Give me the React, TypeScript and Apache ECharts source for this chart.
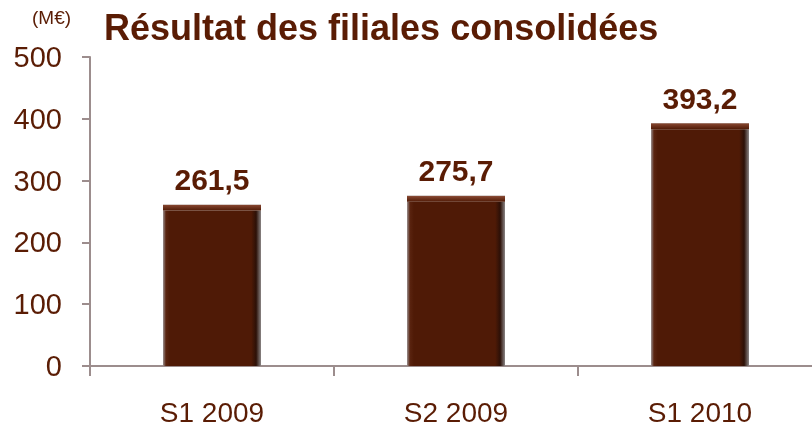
import React, { useEffect, useRef } from "react";
import * as echarts from "echarts";

const categories = ["S1 2009", "S2 2009", "S1 2010"];
const values = [261.5, 275.7, 393.2];
const valueLabels = ["261,5", "275,7", "393,2"];
const yTicks = [0, 100, 200, 300, 400, 500];

const TEXT = "#5a1c04";
const AXIS = "#9c8d8d";
const FONT = "Liberation Sans, Arial, sans-serif";
const CAP = 10; // bevel strip height in data units (styling)

export default function App() {
  const ref = useRef<HTMLDivElement>(null);
  useEffect(() => {
    if (!ref.current) return;
    const chart = echarts.init(ref.current, null, { renderer: "svg" });
    const sideGradient = {
      type: "linear",
      x: 0, y: 0, x2: 1, y2: 0,
      colorStops: [
        { offset: 0, color: "#9a9090" },
        { offset: 0.03, color: "#5a2410" },
        { offset: 0.07, color: "#4f1a06" },
        { offset: 0.9, color: "#4f1a06" },
        { offset: 0.95, color: "#2c1007" },
        { offset: 1, color: "#8a8585" },
      ],
    };
    chart.setOption({
      animation: false,
      textStyle: { fontFamily: FONT },
      title: {
        text: "Résultat des filiales consolidées",
        left: 99,
        top: 4,
        textStyle: {
          color: TEXT,
          fontSize: 36,
          fontWeight: "bold",
          fontFamily: FONT,
        },
      },
      graphic: [
        {
          type: "text",
          left: 32,
          top: 8,
          style: {
            text: "(M€)",
            fill: TEXT,
            fontSize: 19,
            fontFamily: FONT,
          },
        },
      ],
      grid: { left: 90, right: 8, top: 57, bottom: 67, containLabel: false },
      xAxis: {
        type: "category",
        data: categories,
        axisLine: { lineStyle: { color: AXIS, width: 2 } },
        axisTick: { show: true, length: 10, lineStyle: { color: AXIS, width: 2 } },
        axisLabel: { color: TEXT, fontSize: 28, margin: 32 },
      },
      yAxis: {
        type: "value",
        min: yTicks[0],
        max: yTicks[yTicks.length - 1],
        interval: 100,
        splitLine: { show: false },
        axisLine: { show: true, lineStyle: { color: AXIS, width: 2 } },
        axisTick: { show: true, length: 8, lineStyle: { color: AXIS, width: 2 } },
        axisLabel: { color: TEXT, fontSize: 29, margin: 28 },
      },
      series: [
        {
          type: "bar",
          stack: "b",
          data: values.map((v) => v - CAP),
          barWidth: 98,
          itemStyle: { color: sideGradient },
        },
        {
          type: "bar",
          stack: "b",
          data: values.map(() => CAP),
          barWidth: 98,
          itemStyle: {
            color: {
              type: "linear",
              x: 0, y: 0, x2: 0, y2: 1,
              colorStops: [
                { offset: 0, color: "#b8aaa5" },
                { offset: 0.15, color: "#83432d" },
                { offset: 1, color: "#4f1a06" },
              ],
            },
          },
          label: {
            show: true,
            position: "top",
            distance: 10,
            color: TEXT,
            fontSize: 30,
            fontWeight: "bold",
            fontFamily: FONT,
            formatter: (p: any) => valueLabels[p.dataIndex],
          },
        },
      ],
    });
    return () => chart.dispose();
  }, []);
  return (
    <div
      ref={ref}
      style={{ position: "fixed", left: 0, top: 0, width: 830, height: 433 }}
    />
  );
}
